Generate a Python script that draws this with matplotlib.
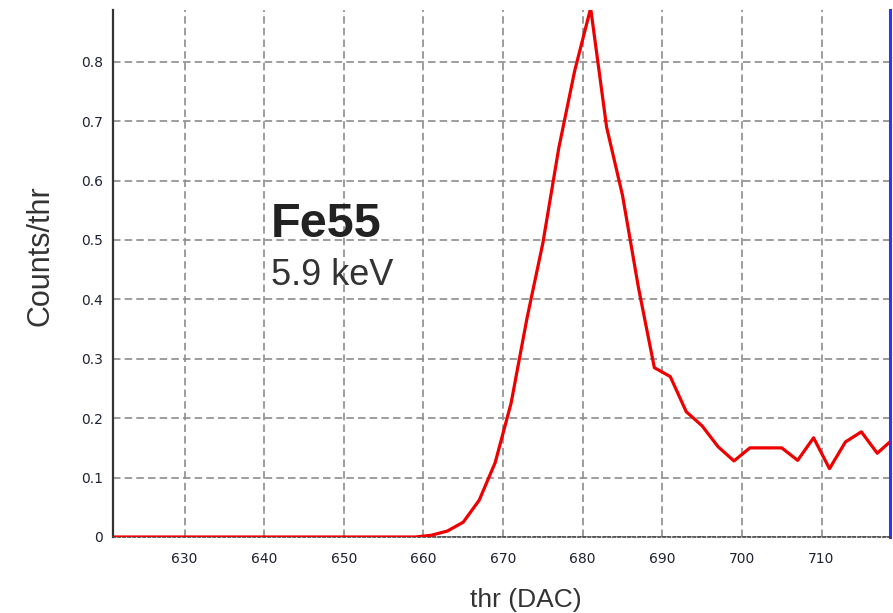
import matplotlib
matplotlib.use('Agg')
import matplotlib.pyplot as plt

# threshold scan, Fe55 source (counts per threshold step)
thr = list(range(621, 720, 2))
counts = [0.0] * 20 + [
    0.003, 0.010, 0.025, 0.062, 0.125, 0.225, 0.368, 0.495, 0.655, 0.785,
    0.890, 0.690, 0.575, 0.420, 0.285, 0.270, 0.211, 0.187, 0.152, 0.128,
    0.150, 0.150, 0.150, 0.129, 0.167, 0.115, 0.160, 0.177, 0.141, 0.165,
]
xticks = [630, 640, 650, 660, 670, 680, 690, 700, 710]
yticks = [0, 0.1, 0.2, 0.3, 0.4, 0.5, 0.6, 0.7, 0.8]
ytick_labels = ['0', '0.1', '0.2', '0.3', '0.4', '0.5', '0.6', '0.7', '0.8']

plt.rcParams['font.family'] = ['Liberation Sans', 'DejaVu Sans']

fig = plt.figure(figsize=(8.93, 6.13), dpi=100)
ax = fig.add_axes([113 / 893, 1 - 537 / 613, 777 / 893, 527 / 613])

ax.plot(thr, counts, color='#ee0000', lw=2.3, zorder=3, clip_on=True)

ax.set_xlim(621, 718.6)
ax.set_ylim(0, 0.887)
ax.set_xticks(xticks)
ax.set_yticks(yticks)
ax.set_yticklabels(ytick_labels)

ax.grid(True, color='#8c8c8c', lw=1.2, linestyle=(0, (4.5, 2.5)))
ax.set_axisbelow(True)

ax.tick_params(length=0, labelsize=10, labelcolor='#1e2233')
ax.tick_params(axis='x', pad=11)
ax.tick_params(axis='y', pad=7)
for lab in ax.get_xticklabels() + ax.get_yticklabels():
    lab.set_family('DejaVu Sans')

ax.spines['top'].set_visible(False)
ax.spines['left'].set_color('#333333')
ax.spines['left'].set_linewidth(1.6)
ax.spines['bottom'].set_color('#444444')
ax.spines['bottom'].set_linewidth(1.2)
ax.spines['bottom'].set_linestyle((0, (1.5, 1.5)))
ax.spines['right'].set_color('#3030ff')
ax.spines['right'].set_linewidth(2.2)

fig.text(40 / 893, 1 - 256 / 613, 'Counts/thr', rotation=90, fontsize=22,
         color='#333333', ha='center', va='center')
fig.text(526 / 893, 1 - 600 / 613, 'thr (DAC)', fontsize=19,
         color='#333333', ha='center', va='center')

fig.text(271 / 893, 1 - 237 / 613, 'Fe55', fontsize=35, fontweight='bold',
         color='#222222', ha='left', va='baseline')
fig.text(271 / 893, 1 - 285 / 613, '5.9 keV', fontsize=26,
         color='#333333', ha='left', va='baseline')

fig.savefig('out.png', dpi=100)
